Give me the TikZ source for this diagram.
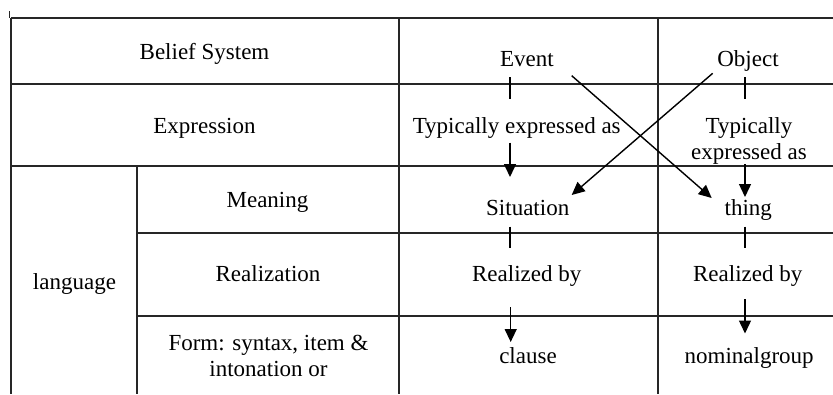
\documentclass[tikz,border=0pt]{standalone}
\usepackage{fontspec}
\setmainfont{Liberation Serif}
\usetikzlibrary{arrows.meta}
\begin{document}
\begin{tikzpicture}[x=1pt,y=-1pt,
  grid/.style={line width=1.4pt, draw=black!85},
  lbl/.style={inner sep=0pt, anchor=base, font=\fontsize{23}{26}\selectfont, align=center},
  arr/.style={line width=1.4pt, -{Triangle[length=13pt,width=12pt]}},
  stub/.style={line width=1.1pt}]
\useasboundingbox (0,0) rectangle (833,394);
% grid
\draw[grid] (11,18) -- (833,18);
\draw[grid] (11,84) -- (833,84);
\draw[grid] (11,166) -- (833,166);
\draw[grid] (137,233) -- (833,233);
\draw[grid] (137,316) -- (833,316);
\draw[grid] (11,18) -- (11,394);
\draw[grid] (137,166) -- (137,394);
\draw[grid] (399,18) -- (399,394);
\draw[grid] (658,18) -- (658,394);
\draw[grid] (9.5,11) -- (9.5,18);
% labels (multi-line nodes: base = last line)
\node[lbl] (belief) at (204.5,59.3) {Belief System};
\node[lbl] (expr) at (204.5,133.3) {Expression};
\node[lbl] (meaning) at (267.5,207.3) {Meaning};
\node[lbl] (realiz) at (268,281.7) {Realization};
\node[lbl] (form) at (268.5,376.7) {Form: syntax, item \&\\intonation or};
\node[lbl] (lang) at (74.5,289.3) {language};
\node[lbl] (event) at (527,66.7) {Event};
\node[lbl] (object) at (748,66.7) {Object};
\node[lbl] (typ1) at (516.7,133.3) {Typically expressed as};
\node[lbl] (typ2) at (749,159.3) {Typically\\expressed as};
\node[lbl] (sit) at (527.7,215) {Situation};
\node[lbl] (thing) at (748.3,215) {thing};
\node[lbl] (real1) at (526.7,281.7) {Realized by};
\node[lbl] (real2) at (747.7,281.7) {Realized by};
\node[lbl] (clause) at (528,363.3) {clause};
\node[lbl] (ngroup) at (749.2,363.3) {nominalgroup};
% stubs
\draw[stub] (510,77) -- (510,99);
\draw[stub] (745,77) -- (745,99);
\draw[stub] (510,226.7) -- (510,247.7);
\draw[stub] (745,226.7) -- (745,247.7);
% arrow ends
\coordinate (a1s) at (510,142.7);
\coordinate (a1e) at (510,177);
\coordinate (a2s) at (745,164);
\coordinate (a2e) at (745,197);
\coordinate (a3s) at (510.7,307);
\coordinate (a3e) at (510.7,342);
\coordinate (a4s) at (745,299);
\coordinate (a4e) at (745,333.5);
\coordinate (evs) at (571.7,75.7);
\coordinate (thn) at (711.7,198);
\coordinate (obs) at (712.7,73.3);
\coordinate (sin) at (571.7,195);
\draw[arr] (a1s) -- (a1e);
\draw[arr] (a2s) -- (a2e);
\draw[arr] (a3s) -- (a3e);
\draw[arr] (a4s) -- (a4e);
\draw[arr] (evs) -- (thn);
\draw[arr] (obs) -- (sin);
\end{tikzpicture}
\end{document}
